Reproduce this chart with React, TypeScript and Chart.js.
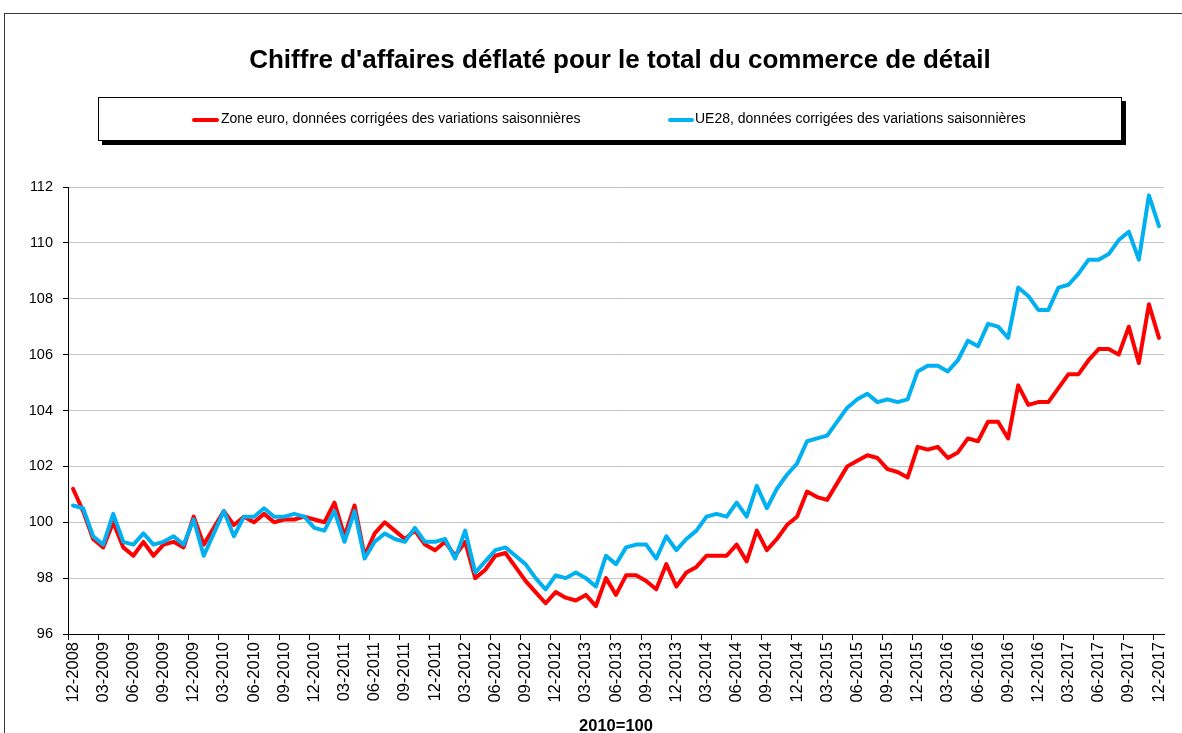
import React, { useEffect, useRef } from "react";
import { Chart, registerables } from "chart.js";

Chart.register(...registerables);

const FONT = "'Liberation Sans', Arial, sans-serif";

const TITLE = "Chiffre d'affaires déflaté pour le total du commerce de détail";
const SERIES_NAMES = [
  "Zone euro, données corrigées des variations saisonnières",
  "UE28, données corrigées des variations saisonnières",
];
const BASE_NOTE = "2010=100";

const MONTHS = ["01", "02", "03", "04", "05", "06", "07", "08", "09", "10", "11", "12"];
const YEARS = [2009, 2010, 2011, 2012, 2013, 2014, 2015, 2016, 2017];
const FIRST_LABEL = "12-2008";
const categories: string[] = [FIRST_LABEL];
YEARS.forEach((y) => MONTHS.forEach((m) => categories.push(`${m}-${y}`)));

const Y_TICKS = [96, 98, 100, 102, 104, 106, 108, 110, 112];

const zoneEuro = [
  101.2, 100.4, 99.4, 99.1, 100.0, 99.1, 98.8, 99.3, 98.8, 99.2,
  99.3, 99.1, 100.2, 99.2, 99.8, 100.4, 99.9, 100.2, 100.0, 100.3,
  100.0, 100.1, 100.1, 100.2, 100.1, 100.0, 100.7, 99.5, 100.6, 98.8,
  99.6, 100.0, 99.7, 99.4, 99.7, 99.2, 99.0, 99.3, 98.8, 99.3,
  98.0, 98.3, 98.8, 98.9, 98.4, 97.9, 97.5, 97.1, 97.5, 97.3,
  97.2, 97.4, 97.0, 98.0, 97.4, 98.1, 98.1, 97.9, 97.6, 98.5,
  97.7, 98.2, 98.4, 98.8, 98.8, 98.8, 99.2, 98.6, 99.7, 99.0,
  99.4, 99.9, 100.2, 101.1, 100.9, 100.8, 101.4, 102.0, 102.2, 102.4,
  102.3, 101.9, 101.8, 101.6, 102.7, 102.6, 102.7, 102.3, 102.5, 103.0,
  102.9, 103.6, 103.6, 103.0, 104.9, 104.2, 104.3, 104.3, 104.8, 105.3,
  105.3, 105.8, 106.2, 106.2, 106.0, 107.0, 105.7, 107.8, 106.6,
];

const ue28 = [
  100.6, 100.5, 99.5, 99.2, 100.3, 99.3, 99.2, 99.6, 99.2, 99.3,
  99.5, 99.2, 100.1, 98.8, 99.6, 100.4, 99.5, 100.2, 100.2, 100.5,
  100.2, 100.2, 100.3, 100.2, 99.8, 99.7, 100.4, 99.3, 100.4, 98.7,
  99.3, 99.6, 99.4, 99.3, 99.8, 99.3, 99.3, 99.4, 98.7, 99.7,
  98.2, 98.6, 99.0, 99.1, 98.8, 98.5, 98.0, 97.6, 98.1, 98.0,
  98.2, 98.0, 97.7, 98.8, 98.5, 99.1, 99.2, 99.2, 98.7, 99.5,
  99.0, 99.4, 99.7, 100.2, 100.3, 100.2, 100.7, 100.2, 101.3, 100.5,
  101.2, 101.7, 102.1, 102.9, 103.0, 103.1, 103.6, 104.1, 104.4, 104.6,
  104.3, 104.4, 104.3, 104.4, 105.4, 105.6, 105.6, 105.4, 105.8, 106.5,
  106.3, 107.1, 107.0, 106.6, 108.4, 108.1, 107.6, 107.6, 108.4, 108.5,
  108.9, 109.4, 109.4, 109.6, 110.1, 110.4, 109.4, 111.7, 110.6,
];

const RED = "#FF0000";
const BLUE = "#00B0F0";

export default function App() {
  const canvasRef = useRef<HTMLCanvasElement | null>(null);

  useEffect(() => {
    if (!canvasRef.current) return;
    const chart = new Chart(canvasRef.current, {
      type: "line",
      data: {
        labels: categories,
        datasets: [
          {
            label: SERIES_NAMES[0],
            data: zoneEuro,
            borderColor: RED,
            backgroundColor: RED,
            borderWidth: 4,
            pointRadius: 0,
            tension: 0,
            borderJoinStyle: "round",
            borderCapStyle: "round",
            order: 1,
          },
          {
            label: SERIES_NAMES[1],
            data: ue28,
            borderColor: BLUE,
            backgroundColor: BLUE,
            borderWidth: 4,
            pointRadius: 0,
            tension: 0,
            borderJoinStyle: "round",
            borderCapStyle: "round",
            order: 0,
          },
        ],
      },
      options: {
        animation: false,
        responsive: false,
        devicePixelRatio: 1,
        layout: { padding: { top: 187, right: 18, left: 0, bottom: 0 } },
        plugins: {
          legend: { display: false },
          title: { display: false },
          tooltip: { enabled: false },
        },
        scales: {
          x: {
            type: "category",
            offset: true,
            afterFit: (s: any) => {
              s.height = 99;
            },
            grid: {
              offset: true,
              drawOnChartArea: false,
              drawTicks: true,
              tickLength: 6,
              color: (c: any) => (c.index % 3 === 0 ? "#000" : "rgba(0,0,0,0)"),
              tickColor: (c: any) => (c.index % 3 === 0 ? "#000" : "rgba(0,0,0,0)"),
            },
            border: { display: true, color: "#000", width: 1 },
            ticks: {
              autoSkip: false,
              maxRotation: 90,
              minRotation: 90,
              padding: 2,
              color: "#000",
              font: { family: FONT, size: 16.5 },
              callback: (_v: any, i: number) => (i % 3 === 0 ? categories[i] : ""),
            },
            title: {
              display: true,
              text: BASE_NOTE,
              color: "#000",
              font: { family: FONT, size: 16.5, weight: "bold" },
              padding: { top: 0, bottom: -3 },
            },
          },
          y: {
            min: Y_TICKS[0],
            max: Y_TICKS[Y_TICKS.length - 1],
            afterFit: (s: any) => {
              s.width = 68;
            },
            afterBuildTicks: (s: any) => {
              s.ticks = Y_TICKS.map((v) => ({ value: v }));
            },
            grid: {
              color: (c: any) => (c.tick && c.tick.value === Y_TICKS[0] ? "rgba(0,0,0,0)" : "#c4c4c4"),
              tickColor: "#000",
              tickLength: 5,
              lineWidth: 1,
            },
            border: { display: true, color: "#000", width: 1 },
            ticks: {
              padding: 10,
              color: "#000",
              font: { family: FONT, size: 14.5 },
            },
          },
        },
      },
    } as any);
    return () => chart.destroy();
  }, []);

  const legendText: React.CSSProperties = {
    position: "absolute",
    top: 111,
    fontFamily: FONT,
    fontSize: 14,
    lineHeight: "14px",
    color: "#000",
    whiteSpace: "nowrap",
  };

  return (
    <div
      style={{
        position: "absolute",
        left: 0,
        top: 0,
        width: 1182,
        height: 733,
        overflow: "hidden",
        background: "#fff",
      }}
    >
      <canvas
        ref={canvasRef}
        width={1182}
        height={733}
        style={{ position: "absolute", left: 0, top: 0, width: 1182, height: 733 }}
      />
      <div
        style={{
          position: "absolute",
          left: 4,
          top: 13,
          width: 1200,
          height: 760,
          borderTop: "1px solid #3a3a3a",
          borderLeft: "1px solid #3a3a3a",
          pointerEvents: "none",
        }}
      />
      <div
        style={{
          position: "absolute",
          left: 620,
          top: 46,
          transform: "translateX(-50%)",
          fontFamily: FONT,
          fontWeight: "bold",
          fontSize: 26,
          lineHeight: "26px",
          color: "#000",
          whiteSpace: "nowrap",
        }}
      >
        {TITLE}
      </div>
      <div
        style={{
          position: "absolute",
          left: 98,
          top: 97,
          width: 1022,
          height: 42,
          border: "1px solid #000",
          boxShadow: "4px 4px 0 #000",
          background: "#fff",
        }}
      />
      <div
        style={{
          position: "absolute",
          left: 192,
          top: 118,
          width: 27,
          height: 4,
          borderRadius: 2,
          background: RED,
        }}
      />
      <div style={{ ...legendText, left: 221 }}>{SERIES_NAMES[0]}</div>
      <div
        style={{
          position: "absolute",
          left: 668,
          top: 118,
          width: 26,
          height: 4,
          borderRadius: 2,
          background: BLUE,
        }}
      />
      <div style={{ ...legendText, left: 695 }}>{SERIES_NAMES[1]}</div>
    </div>
  );
}
